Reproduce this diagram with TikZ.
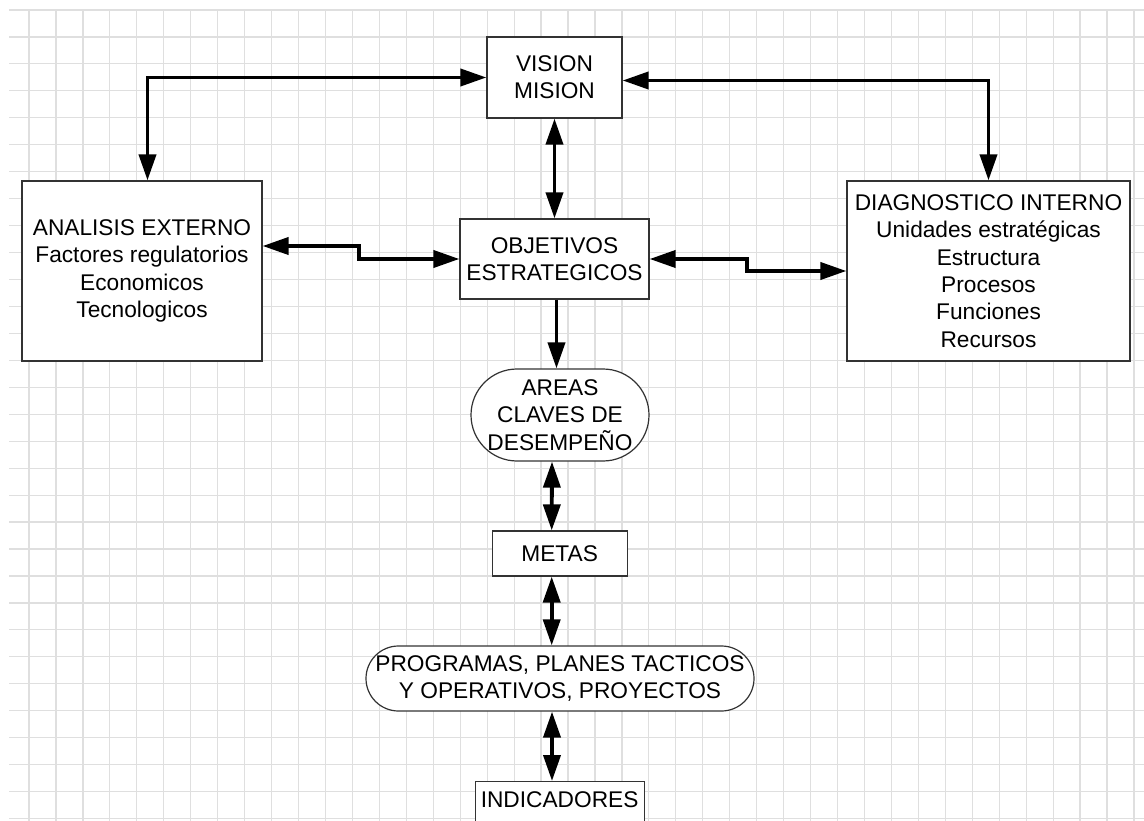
\documentclass[tikz,border=0pt]{standalone}
\usepackage{fontspec}
\setmainfont{Liberation Sans}
\usetikzlibrary{arrows.meta}
\begin{document}
\begin{tikzpicture}[x=1pt,y=-1pt,
  gridline/.style={draw=gray!25,line width=1.2pt},
  box/.style={draw=black!80,fill=white,line width=1.2pt,inner sep=0pt,align=center,
    font={\fontsize{22.7}{27.3}\selectfont}},
  pill/.style={box,rounded corners=#1},
  link/.style={line width=3.8pt,-{Triangle[length=26pt,width=17pt]}},
  dlink/.style={line width=3.8pt,{Triangle[length=26pt,width=17pt]}-{Triangle[length=26pt,width=17pt]}}]
\useasboundingbox (0,0) rectangle (1144,821);
\clip (0,0) rectangle (1144,821);
\fill[white] (0,0) rectangle (1144,821);
% background grid
\foreach \k in {0,...,41} \draw[gridline] ({29+26.95*\k},10) -- ({29+26.95*\k},821);
\foreach \k in {0,...,30} \draw[gridline] (9,{10+26.95*\k}) -- (1144,{10+26.95*\k});
% blocks
\node[box,minimum width=135pt,minimum height=81pt] (vision) at (554.5,77.5) {VISION\\MISION};
\node[box,minimum width=240pt,minimum height=180pt] (analysis) at (142,271)
  {ANALISIS EXTERNO\\Factores regulatorios\\Economicos\\Tecnologicos};
\node[box,minimum width=283pt,minimum height=180pt] (diag) at (988.5,271)
  {DIAGNOSTICO INTERNO\\Unidades estratégicas\\Estructura\\Procesos\\Funciones\\Recursos};
\node[box,minimum width=189pt,minimum height=80pt] (obj) at (554.5,259) {OBJETIVOS\\ESTRATEGICOS};
\node[pill=46pt,minimum width=178pt,minimum height=92pt] (areas) at (560,415) {AREAS\\CLAVES DE\\DESEMPEÑO};
\node[box,minimum width=135pt,minimum height=45pt] (metas) at (559.7,553.5) {METAS};
\node[pill=32.5pt,minimum width=388pt,minimum height=65pt] (prog) at (560,678.5)
  {PROGRAMAS, PLANES TACTICOS\\Y OPERATIVOS, PROYECTOS};
\node[box,anchor=north,minimum width=169pt,text height=16.3pt,text depth=30pt,inner ysep=10pt]
  (ind) at (559.6,781) {INDICADORES};
% connectors
\draw[dlink] (vision.west) -| ([xshift=5.5pt]analysis.north);
\draw[dlink] ([yshift=-3pt]vision.east) -| (diag.north);
\draw[dlink] (vision.south) -- (obj.north);
\draw[dlink] ([yshift=25pt]analysis.east) -- ++(96.5,0) |- (obj.west);
\draw[dlink] (obj.east) -- ++(97,0) |- (diag.west);
\draw[link] ([xshift=2pt]obj.south) -- ([xshift=2pt]obj.south |- areas.north);
\draw[dlink] ([xshift=-8pt]areas.south) -- ([xshift=-8pt]metas.north);
\draw[dlink] ([xshift=-8pt]metas.south) -- ([xshift=-8pt]metas.south |- prog.north);
\draw[dlink] ([xshift=-8pt]prog.south) -- ([xshift=-8pt]prog.south |- ind.north);
\end{tikzpicture}
\end{document}
